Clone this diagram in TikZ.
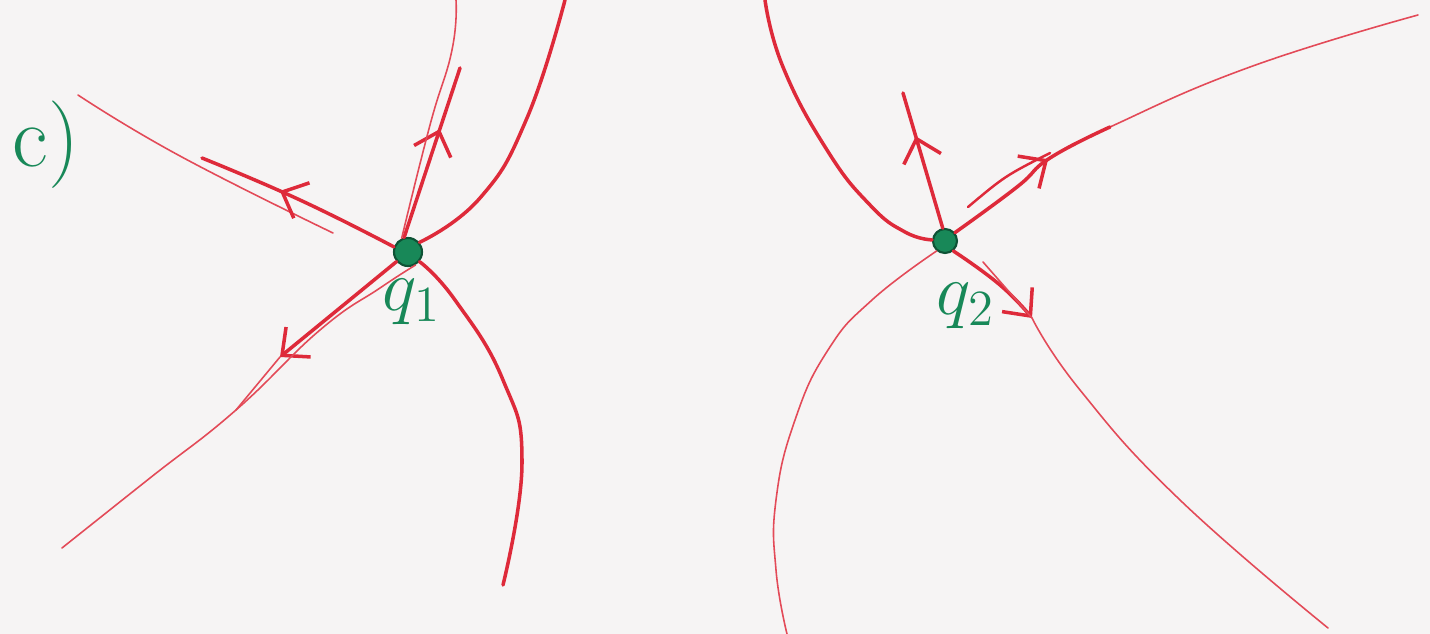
\documentclass[tikz,border=0pt]{standalone}
\usetikzlibrary{arrows.meta, decorations.markings}
\definecolor{penred}{RGB}{222,42,58}
\definecolor{pengreen}{RGB}{24,136,88}
\definecolor{paper}{RGB}{246,244,244}

\begin{document}
\begin{tikzpicture}[x=0.01cm, y=-0.01cm]
		% estilos del retrato de fase
		\tikzset{
			orbit/.style={
					draw=penred, line width=1pt, line cap=round
				},
			faint/.style={
					draw=penred!85, line width=0.45pt, line cap=round
				},
			crit/.style={
					circle, fill=pengreen, draw=pengreen!60!black,
					line width=0.6pt, minimum size=0.25cm, inner sep=0pt
				},
			tag/.style={
					text=pengreen, font=\huge
				},
			tipflow/.tip={Straight Barb[length=6pt, width=11pt]},
			flow/.style={
					postaction={decorate, decoration={markings,
									mark=at position #1 with {\arrow[penred, line width=1pt]{tipflow}}}}
				}
		}

		\fill[paper] (0,0) rectangle (1430,634);
		\useasboundingbox (0,0) rectangle (1430,634);

		% puntos criticos y etiquetas
		\node[crit, minimum size=0.28cm] (q1) at (408,252) {};
		\node[crit, minimum size=0.24cm] (q2) at (945,241) {};
		\node[tag] (l1) at (412,302) {$q_1$};
		\node[tag] (l2) at (966,306) {$q_2$};
		\node[tag, font=\Huge] (part) at (46,145) {c)};

		% extremos libres de las orbitas
		\coordinate (a1) at (78,95);
		\coordinate (a2) at (333,233);
		\coordinate (b1) at (202,158);
		\coordinate (c1) at (460,68);
		\coordinate (c2) at (456,0);
		\coordinate (d1) at (565,0);
		\coordinate (e1) at (503,585);
		\coordinate (f1) at (280,357);
		\coordinate (f2) at (62,548);
		\coordinate (f3) at (236,410);
		\coordinate (g1) at (765,0);
		\coordinate (h1) at (903,93);
		\coordinate (i1) at (1418,15);
		\coordinate (i2) at (1110,127);
		\coordinate (i3) at (968,207);
		\coordinate (i4) at (1050,153);
		\coordinate (j1) at (1032,318);
		\coordinate (j2) at (1328,628);
		\coordinate (j3) at (983,262);
		\coordinate (k1) at (787,634);

		% orbitas alrededor de q1
		\draw[faint] plot[smooth, tension=0.8] coordinates {(a1) (180,156) (a2)};
		\draw[orbit, flow=0.6] plot[smooth, tension=0.8] coordinates {(q1.160) (300,200) (b1)};
		\draw[orbit, flow=0.64] (q1.105) -- (c1);
		\draw[faint] plot[smooth, tension=0.8] coordinates {(q1.115) (430,125) (452,50) (c2)};
		\draw[orbit] plot[smooth, tension=0.8] coordinates {(q1.40) (480,198) (527,118) (d1)};
		\draw[orbit] plot[smooth, tension=0.8] coordinates {(q1.-40) (455,300) (503,380) (522,463) (e1)};
		\draw[orbit, -tipflow] (q1.220) -- (f1);
		\draw[faint] plot[smooth, tension=0.8] coordinates {(q1.-60) (380,288) (320,330) (f3) (150,478) (f2)};
		\draw[faint] (f1) -- (f3);

		% orbitas alrededor de q2
		\draw[orbit] plot[smooth, tension=0.8] coordinates {(g1) (783,67) (827,150) (870,205) (905,232) (q2.175)};
		\draw[orbit, flow=0.68] (q2.100) -- (h1);
		\draw[faint] plot[smooth, tension=0.8] coordinates {(q2.40) (1017,187) (1050,158) (i2) (1250,67) (i1)};
		\draw[orbit, flow=0.63] plot[smooth, tension=0.8] coordinates {(q2.40) (1017,187) (1050,158) (i2)};
		\draw[orbit, line width=0.7pt] (i3) .. controls (1005,176) .. (i4);
		\draw[orbit, -tipflow] plot[smooth, tension=0.8] coordinates {(q2.-50) (1000,285) (j1)};
		\draw[faint] plot[smooth, tension=0.8] coordinates {(j1) (1080,390) (1180,500) (j2)};
		\draw[faint] (j3) -- (j1);
		\draw[faint] plot[smooth, tension=0.8] coordinates {(q2.230) (872,300) (828,350) (795,420) (776,500) (776,570) (k1)};
	\end{tikzpicture}
\end{document}
